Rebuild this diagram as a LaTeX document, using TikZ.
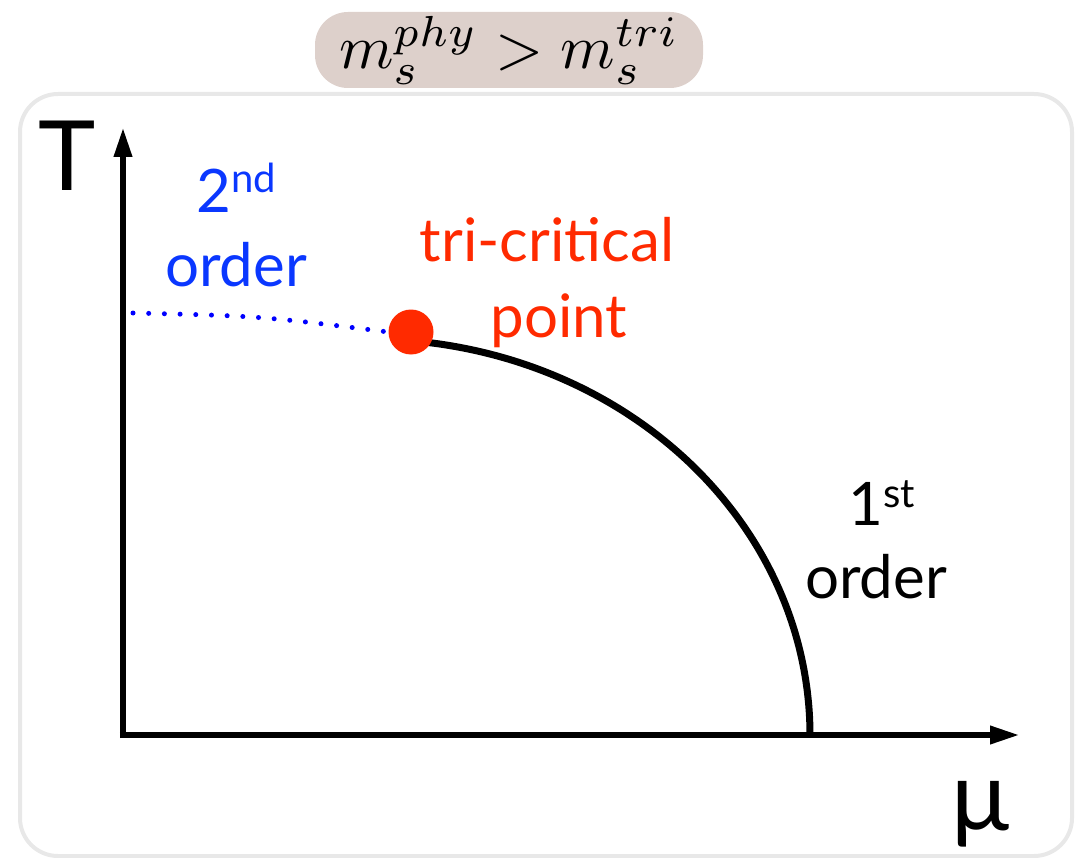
\documentclass[tikz,border=0pt]{standalone}
\usepackage[no-math]{fontspec}
\setmainfont{Lato}
\usetikzlibrary{arrows.meta}
\definecolor{pillfill}{RGB}{221,208,203}
\definecolor{framegray}{RGB}{232,232,232}
\definecolor{tcred}{RGB}{255,42,0}
\definecolor{bluetext}{RGB}{10,55,255}
\definecolor{dotblue}{RGB}{0,0,255}
\newcommand\upper[2]{{\fontsize{40}{40}\selectfont\raisebox{#1}{#2}}}
\tikzset{
  lbl/.style={inner sep=0pt, anchor=base, font=\fontsize{60}{60}\selectfont},
  axislbl/.style={inner sep=0pt, anchor=base, font=\fontsize{97}{97}\selectfont},
  axisline/.style={line width=6.5pt, -{Triangle[length=30pt,width=17pt]}},
  pillbox/.style={fill=pillfill, rounded corners=33pt, minimum width=388pt, minimum height=76pt, inner sep=0pt},
}
\begin{document}
\begin{tikzpicture}[x=1pt,y=-1pt]
\useasboundingbox (0,0) rectangle (1075,858);
% frame
\draw[framegray, line width=4pt, rounded corners=38pt] (20,94) rectangle (1072,856);
% condition pill
\node[pillbox] (cond) at (509,50) {\resizebox{340pt}{!}{$m_s^{phy} > m_s^{tri}$}};
% axes
\coordinate (O) at (123,735);
\coordinate (Ttip) at (123,127);
\coordinate (Mtip) at (1020,735);
\coordinate (Obot) at (123,738);
\coordinate (Oleft) at (119.75,735);
\draw[axisline] (Obot) -- (Ttip);
\draw[axisline] (Oleft) -- (Mtip);
\node[axislbl] (T) at (67,191) {T};
\node[axislbl] (mu) at (980,830) {μ};
% first order line
\draw[line width=7pt] plot[domain=0:85, samples=80, smooth] ({370+440*cos(\x)},{735-396*sin(\x)});
% tricritical point
\node[circle, fill=tcred, minimum size=45pt, inner sep=0pt] (tcp) at (411,332) {};
\coordinate (dotstart) at (133,313);
\draw[dotblue, line width=5pt, line cap=round, dash pattern=on 0pt off 15.7pt] (dotstart) .. controls (260,316) .. (tcp.west);
% labels
\node[lbl, text=bluetext] (second) at (236,213) {2\upper{20pt}{nd}};
\node[lbl, text=bluetext] (secondorder) at (236,287) {order};
\node[lbl, text=tcred] (tri) at (547,262) {tri-critical};
\node[lbl, text=tcred] (point) at (559,337) {point};
\node[lbl] (first) at (882,525) {1\upper{18pt}{st}};
\node[lbl] (firstorder) at (876,598) {order};
\end{tikzpicture}
\end{document}
